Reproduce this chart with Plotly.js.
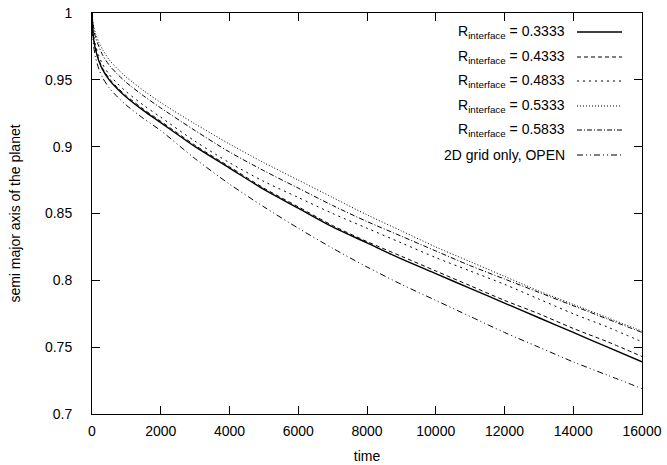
<!DOCTYPE html>
<html>
<head>
<meta charset="utf-8">
<script src="https://cdn.plot.ly/plotly-3.0.1.min.js"></script>
<style>html,body{margin:0;padding:0;background:#fff;}#chart{width:667px;height:465px;}</style>
</head>
<body>
<div id="chart"></div>
<script>
// time samples
const time = [0, 25, 50, 100, 200, 300, 500, 750, 1000, 1500, 2000, 3000, 4000, 5000, 6000, 7000, 8000, 9000, 10000, 11000, 12000, 13000, 14000, 15000, 16000];
// semi major axis of the planet for each run
const r03333 = [1.0, 0.986, 0.980, 0.973, 0.964, 0.958, 0.950, 0.943, 0.937, 0.927, 0.918, 0.900, 0.884, 0.868, 0.854, 0.840, 0.828, 0.816, 0.805, 0.794, 0.783, 0.772, 0.761, 0.750, 0.739];
const r04333 = [1.0, 0.987, 0.981, 0.974, 0.965, 0.959, 0.951, 0.944, 0.938, 0.928, 0.919, 0.901, 0.885, 0.869, 0.855, 0.841, 0.829, 0.818, 0.807, 0.796, 0.785, 0.775, 0.764, 0.754, 0.743];
const r04833 = [1.0, 0.988, 0.983, 0.976, 0.968, 0.962, 0.954, 0.947, 0.941, 0.931, 0.922, 0.904, 0.888, 0.874, 0.862, 0.850, 0.839, 0.828, 0.817, 0.807, 0.797, 0.786, 0.775, 0.765, 0.754];
const r05333 = [1.0, 0.994, 0.990, 0.985, 0.978, 0.973, 0.965, 0.958, 0.952, 0.942, 0.933, 0.917, 0.902, 0.888, 0.875, 0.862, 0.849, 0.837, 0.825, 0.814, 0.803, 0.792, 0.782, 0.772, 0.762];
const r05833 = [1.0, 0.992, 0.988, 0.982, 0.975, 0.969, 0.961, 0.954, 0.948, 0.938, 0.929, 0.912, 0.896, 0.882, 0.869, 0.856, 0.844, 0.833, 0.822, 0.811, 0.801, 0.791, 0.781, 0.771, 0.761];
const open2d = [1.0, 0.982, 0.975, 0.967, 0.958, 0.952, 0.944, 0.937, 0.931, 0.921, 0.912, 0.891, 0.872, 0.855, 0.839, 0.824, 0.810, 0.797, 0.785, 0.773, 0.761, 0.750, 0.739, 0.729, 0.719];

const seriesNames = ["R<sub>interface</sub> = 0.3333", "R<sub>interface</sub> = 0.4333", "R<sub>interface</sub> = 0.4833", "R<sub>interface</sub> = 0.5333", "R<sub>interface</sub> = 0.5833", "2D grid only, OPEN"];
const seriesData = [r03333, r04333, r04833, r05333, r05833, open2d];
const dashes = ["solid", "4px,3px", "2px,4px", "1px,2px", "5px,2px,1px,2px", "6px,3px,1px,3px,1px,3px"];
const widths = [1.4, 1, 1, 1, 1, 1];

const xTicks = [0, 2000, 4000, 6000, 8000, 10000, 12000, 14000, 16000];
const yTicks = [0.7, 0.75, 0.8, 0.85, 0.9, 0.95, 1];

const traces = seriesData.map((y, i) => ({
  x: time, y: y, type: 'scatter', mode: 'lines', name: seriesNames[i],
  line: {color: '#000', width: widths[i], dash: dashes[i], shape: 'spline', smoothing: 0.8},
  showlegend: false, hoverinfo: 'skip'
}));

// custom gnuplot-style key: text right-aligned, sample line to the right
const keyRowsPx = [32, 57, 81, 106, 130, 155];
const plotTop = 13, plotBottom = 414, plotLeft = 92, plotRight = 642;
const py = v => (plotBottom - v) / (plotBottom - plotTop);
const px = v => (v - plotLeft) / (plotRight - plotLeft);
const annotations = [], shapes = [];
seriesNames.forEach((n, i) => {
  annotations.push({xref: 'paper', yref: 'paper', x: px(567), y: py(keyRowsPx[i]), xanchor: 'right', yanchor: 'middle',
    text: n, showarrow: false, font: {family: 'Liberation Sans, Arial, sans-serif', size: 14, color: '#000'}});
  shapes.push({type: 'line', xref: 'paper', yref: 'paper', x0: px(577), x1: px(622), y0: py(keyRowsPx[i]), y1: py(keyRowsPx[i]),
    line: {color: '#000', width: widths[i], dash: dashes[i]}});
});

const axisCommon = {
  showgrid: false, zeroline: false, showline: true, mirror: 'ticks', linecolor: '#000', linewidth: 1,
  ticks: 'inside', ticklen: 8, tickcolor: '#000', tickwidth: 1,
  tickfont: {family: 'Liberation Sans, Arial, sans-serif', size: 14, color: '#000'}
};

const layout = {
  width: 667, height: 465,
  margin: {l: plotLeft, r: 667 - plotRight, t: plotTop, b: 465 - plotBottom},
  paper_bgcolor: '#fff', plot_bgcolor: '#fff',
  font: {family: 'Liberation Sans, Arial, sans-serif', size: 14, color: '#000'},
  xaxis: Object.assign({}, axisCommon, {
    range: [0, 16000], tickmode: 'array', tickvals: xTicks, ticktext: xTicks.map(String),
    ticklabelstandoff: 4,
    title: {text: 'time', font: {size: 14, color: '#000'}, standoff: 13}
  }),
  yaxis: Object.assign({}, axisCommon, {
    range: [0.7, 1], tickmode: 'array', tickvals: yTicks, ticktext: yTicks.map(String),
    ticklabelstandoff: 16,
    title: {text: 'semi major axis of the planet', font: {size: 14, color: '#000'}, standoff: 21}
  }),
  annotations: annotations, shapes: shapes, showlegend: false
};

Plotly.newPlot('chart', traces, layout, {staticPlot: true, displayModeBar: false});
</script>
</body>
</html>
